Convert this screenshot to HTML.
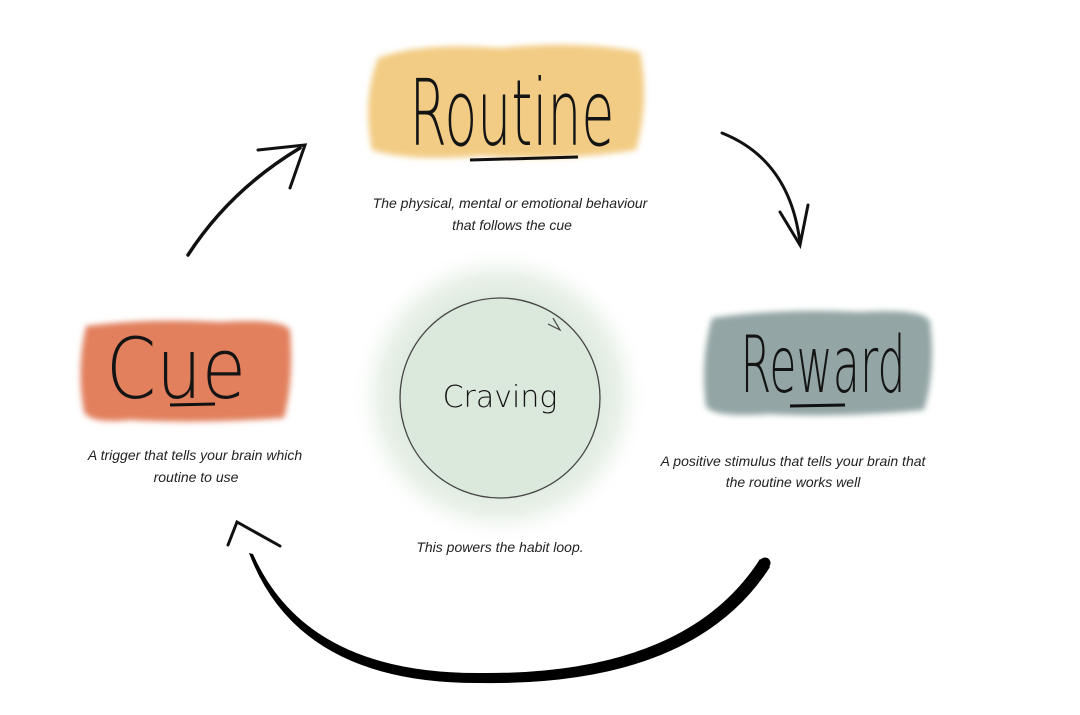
<!DOCTYPE html>
<html><head><meta charset="utf-8"><style>
html,body{margin:0;padding:0;background:#fff;width:1080px;height:715px;overflow:hidden}
svg{display:block}
.hand{font-family:"DejaVu Sans","Liberation Sans",sans-serif;font-weight:200;fill:#141414}
.cap{font-family:"Liberation Sans",sans-serif;font-style:italic;font-size:14px;fill:#222;text-anchor:middle}
</style></head><body>
<svg width="1080" height="715" viewBox="0 0 1080 715" xmlns="http://www.w3.org/2000/svg">
<defs>
<radialGradient id="glow" cx="50%" cy="50%" r="50%">
<stop offset="0" stop-color="#d7e6d8"/>
<stop offset="0.6" stop-color="#dbe8dc"/>
<stop offset="0.8" stop-color="#eaf2ea"/>
<stop offset="1" stop-color="#ffffff" stop-opacity="0"/>
</radialGradient>
<filter id="rough" x="-10%" y="-10%" width="120%" height="120%"><feGaussianBlur stdDeviation="3"/></filter>
</defs>
<path d="M378 58 Q420 42 500 48 Q580 40 640 52 Q650 100 636 150 Q560 162 480 156 Q410 162 372 150 Q362 100 378 58Z" fill="#f2cc84" filter="url(#rough)"/>
<path d="M86 326 Q150 318 220 322 Q282 318 290 330 Q294 380 284 418 Q200 424 130 420 Q90 424 84 412 Q76 370 86 326Z" fill="#e2805d" filter="url(#rough)"/>
<path d="M712 318 Q780 308 860 312 Q925 308 930 322 Q936 370 924 410 Q840 418 770 414 Q712 418 706 406 Q700 360 712 318Z" fill="#93a5a4" filter="url(#rough)"/>
<circle cx="500" cy="395" r="150" fill="url(#glow)"/>
<circle cx="500" cy="398" r="100" fill="#dbe8dc" stroke="#444" stroke-width="1.3"/>
<path d="M553 318 L560 330 L548 324" fill="none" stroke="#444" stroke-width="1.2"/>
<text x="500" y="407" class="hand" font-size="30" text-anchor="middle">Craving</text>
<text x="512" y="145" class="hand" font-size="92" text-anchor="middle" textLength="205" lengthAdjust="spacingAndGlyphs">Routine</text>
<path d="M470 160 L578 157" stroke="#111" stroke-width="3"/>
<text x="176" y="398" class="hand" font-size="84" text-anchor="middle" textLength="140" lengthAdjust="spacingAndGlyphs">Cue</text>
<path d="M170 405 L215 404" stroke="#111" stroke-width="3"/>
<text x="823" y="392" class="hand" font-size="78" text-anchor="middle" textLength="165" lengthAdjust="spacingAndGlyphs">Reward</text>
<path d="M790 406 L845 405" stroke="#111" stroke-width="3"/>
<text x="510" y="208" class="cap">The physical, mental or emotional behaviour</text>
<text x="512" y="230" class="cap">that follows the cue</text>
<text x="195" y="460" class="cap">A trigger that tells your brain which</text>
<text x="196" y="482" class="cap">routine to use</text>
<text x="793" y="466" class="cap">A positive stimulus that tells your brain that</text>
<text x="793" y="487" class="cap">the routine works well</text>
<text x="500" y="552" class="cap">This powers the habit loop.</text>
<path d="M188 255 Q230 190 300 148" fill="none" stroke="#111" stroke-width="3.5" stroke-linecap="round"/>
<path d="M258 150 L305 145 L290 188" fill="none" stroke="#111" stroke-width="3" stroke-linecap="round"/>
<path d="M722 133 Q790 160 800 243" fill="none" stroke="#111" stroke-width="3" stroke-linecap="round"/>
<path d="M780 212 L800 245 L808 205" fill="none" stroke="#111" stroke-width="3" stroke-linecap="round"/>
<path d="M770 567 Q694 686 480 683 Q298 684 249 553 L253 554 Q306 674 480 673 Q686 675 760 559 Z" fill="#000"/>
<circle cx="765" cy="563" r="5.5" fill="#000"/>
<path d="M228 545 L237 522 L280 546" fill="none" stroke="#111" stroke-width="3" stroke-linecap="round"/>
</svg>
</body></html>
